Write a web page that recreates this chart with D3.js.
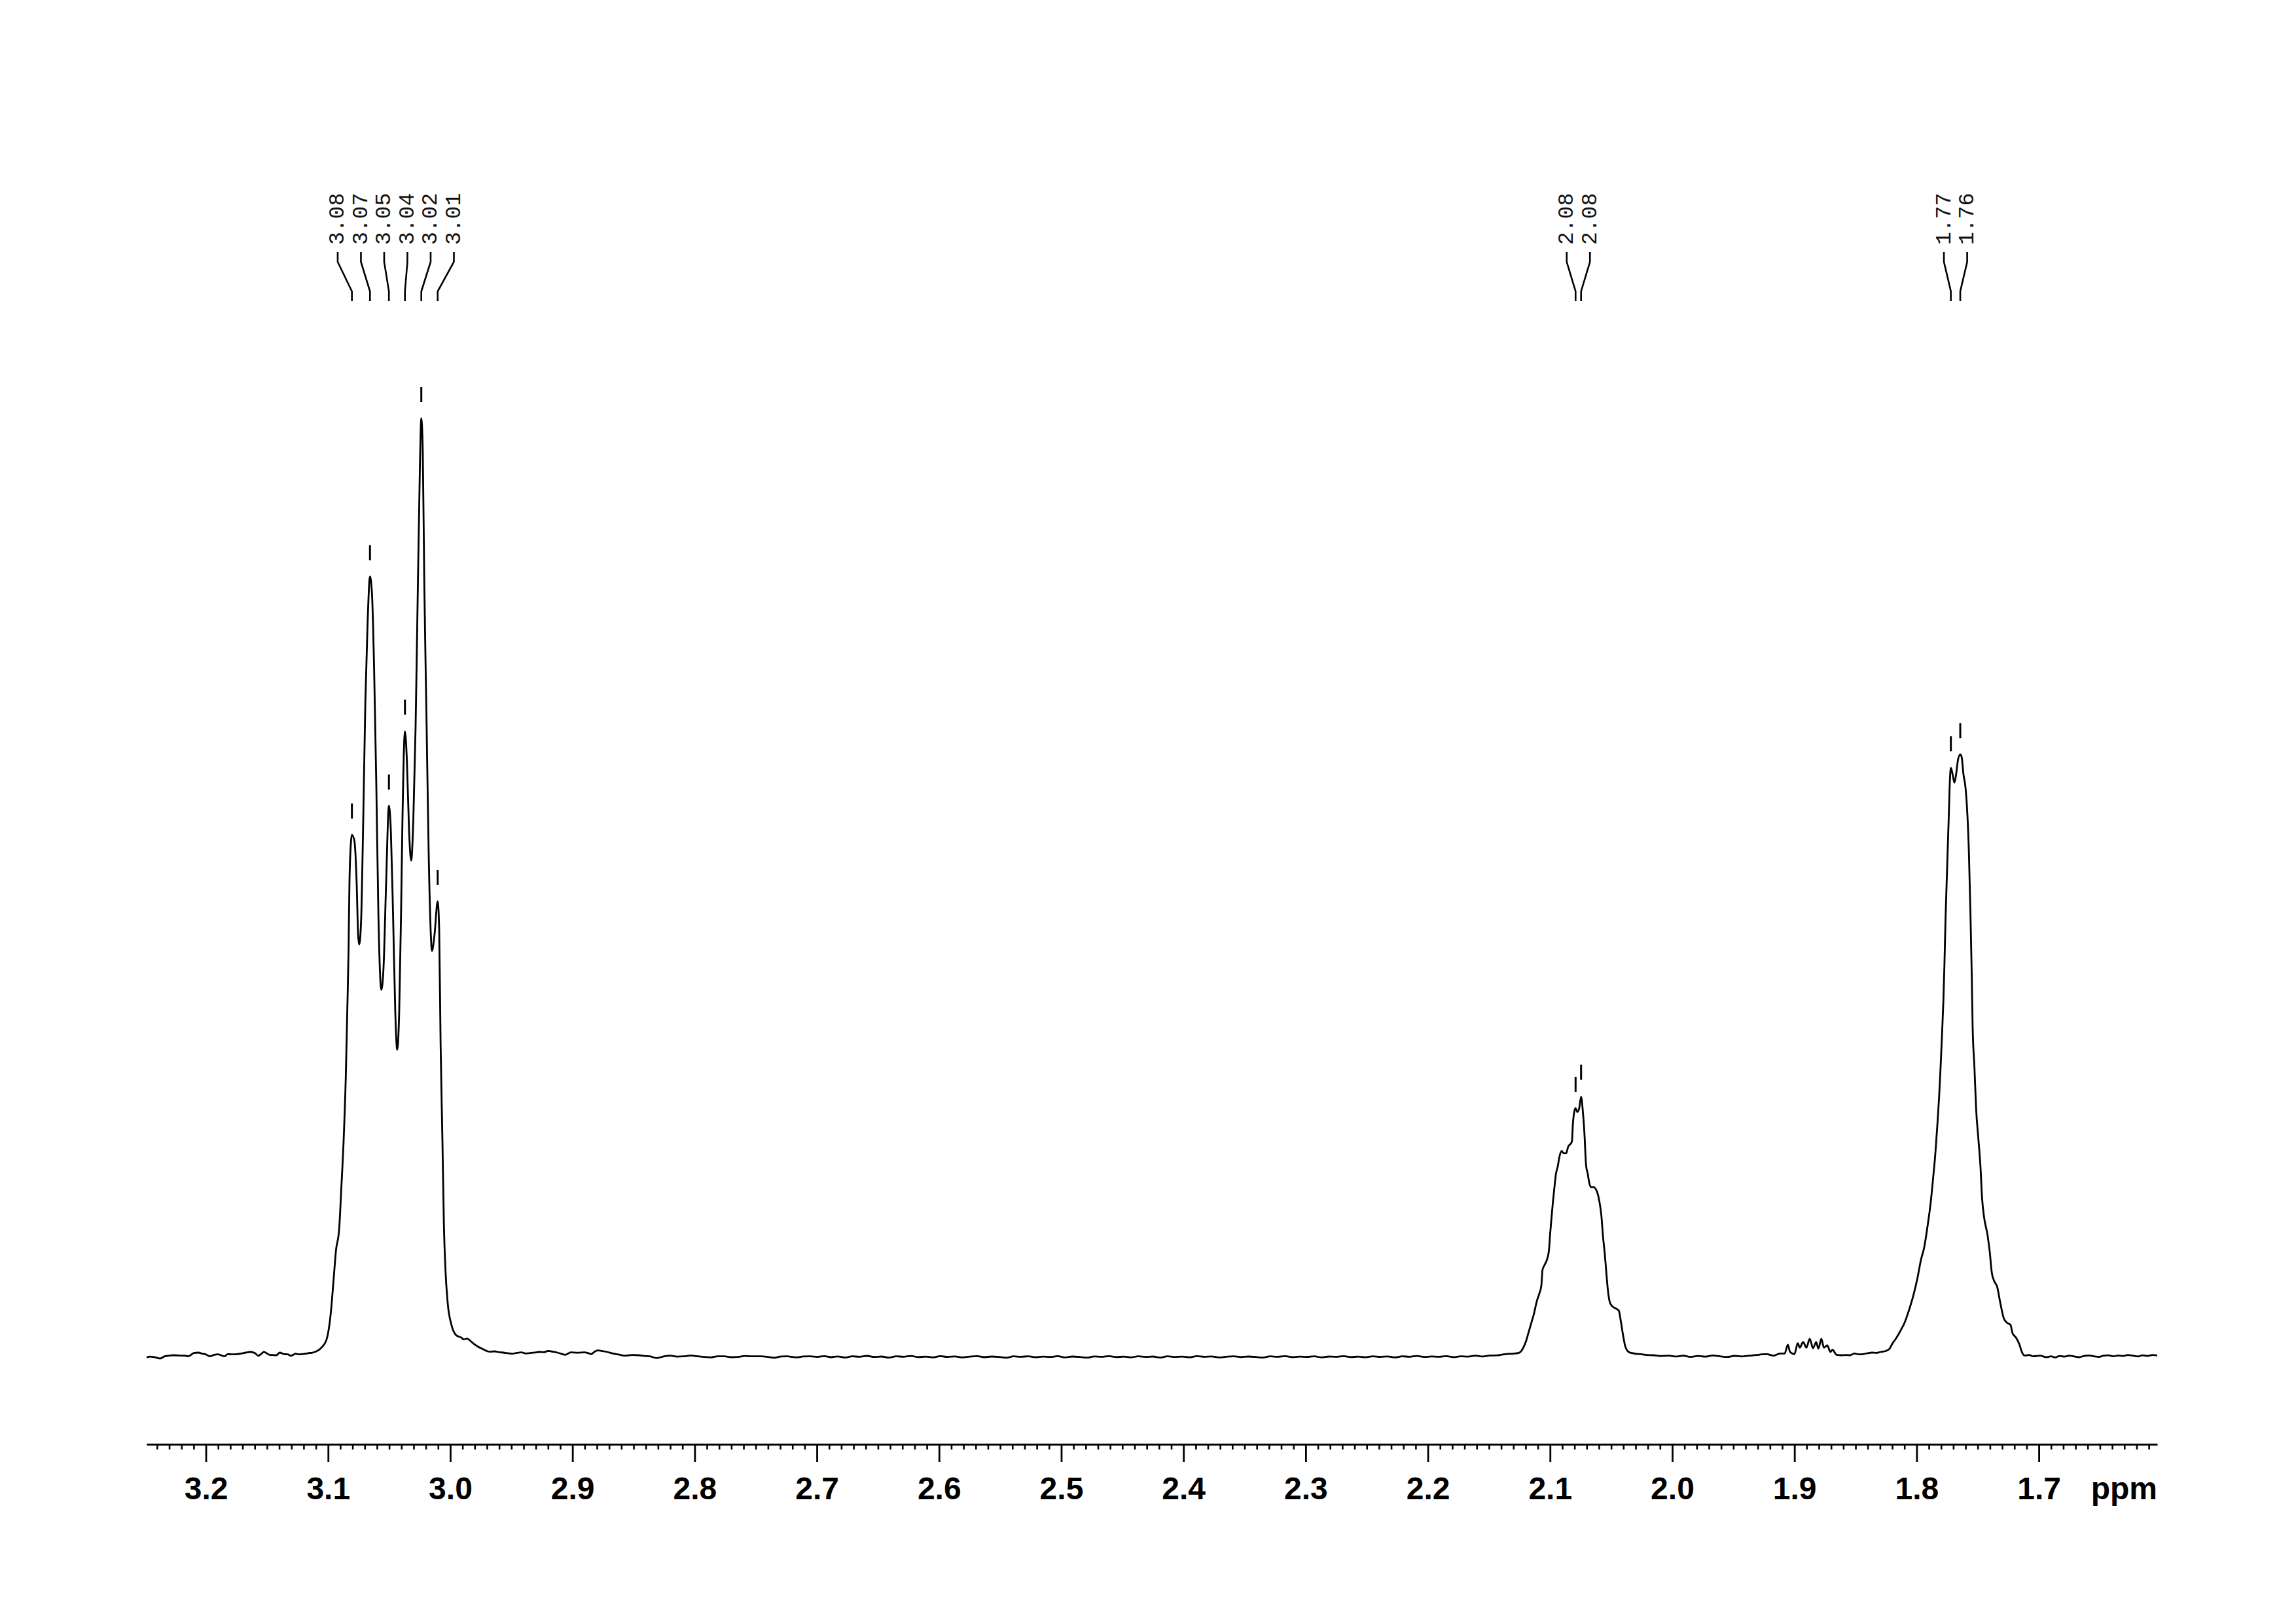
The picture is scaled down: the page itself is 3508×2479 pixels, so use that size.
<!DOCTYPE html>
<html>
<head>
<meta charset="utf-8">
<script src="https://cdn.jsdelivr.net/npm/d3@7"></script>
<style>
  html, body { margin: 0; padding: 0; background: #ffffff; }
  svg { display: block; }
</style>
</head>
<body>
<svg id="chart" width="3508" height="2479"></svg>
<script>
// ---------------- DATA ----------------
// 1H NMR trace: [chemical shift (ppm), relative intensity], tallest line = 100
const baselineLeft = [
  [3.2485,-0.30],[3.2455,-0.22],[3.2430,-0.26],[3.2400,-0.35],[3.2374,-0.42],[3.2337,-0.19],
  [3.2300,-0.12],[3.2264,-0.07],[3.2220,-0.10],[3.2171,-0.12],[3.2144,-0.19],[3.2120,-0.02],
  [3.2098,0.16],[3.2061,0.21],[3.2030,0.10],[3.2005,0.05],[3.1968,-0.19],[3.1931,-0.02],
  [3.1900,0.02],[3.1876,-0.07],[3.1848,-0.19],[3.1821,0.05],[3.1785,0.02],[3.1747,0.05],
  [3.1710,0.12],[3.1673,0.21],[3.1636,0.28],[3.1599,0.16],[3.1571,-0.12],[3.1545,0.10],
  [3.1525,0.28],[3.1500,0.12],[3.1479,-0.02],[3.1450,-0.05],[3.1423,-0.07],[3.1396,0.21],
  [3.1359,0.05],[3.1330,0.02],[3.1303,-0.12],[3.1266,0.09],[3.1240,0.02],[3.1211,0.05],
  [3.1180,0.10],[3.1155,0.16],[3.1130,0.20],[3.1109,0.28],[3.1085,0.42],[3.1063,0.63],
  [3.1043,0.90],[3.1026,1.21],[3.1008,1.80]
];
const multiplet305 = [
  [3.0980,4.15],[3.0953,8.29],[3.0936,11.04],[3.0909,13.45],[3.0891,17.94],[3.0873,22.77],
  [3.0855,29.66],[3.0843,36.56],[3.0832,43.45],[3.0825,50.35],[3.0814,54.49],[3.0805,55.52],
  [3.0784,54.83],[3.0766,50.35],[3.0754,44.83],[3.0745,43.80],[3.0730,46.22],[3.0712,57.25],
  [3.0695,69.66],[3.0677,77.94],[3.0657,83.11],[3.0641,81.38],[3.0623,73.11],[3.0605,60.70],
  [3.0588,46.90],[3.0564,38.97],[3.0546,41.38],[3.0525,50.35],[3.0502,58.63],[3.0486,55.87],
  [3.0468,46.90],[3.0450,36.56],[3.0434,32.56],[3.0418,36.56],[3.0403,46.90],[3.0391,57.25],
  [3.0371,66.56],[3.0355,63.45],[3.0337,55.87],[3.0320,52.77],[3.0302,57.25],[3.0284,66.90],
  [3.0266,81.38],[3.0248,95.18],[3.0237,100.0],[3.0225,96.56],[3.0213,82.77],[3.0194,67.59],
  [3.0177,53.80],[3.0159,44.83],[3.0150,43.11],[3.0129,44.83],[3.0103,48.42],[3.0091,45.52],
  [3.0079,33.11],[3.0064,22.77],[3.0052,13.80],[3.0039,8.97],[3.0021,5.52],[2.9989,3.11],
  [2.9953,2.08]
];
const baselineMid1 = [
  [2.9936,1.95],[2.9908,1.80],[2.9890,1.62],[2.9862,1.70],[2.9834,1.45],[2.9807,1.14],
  [2.9770,0.82],[2.9733,0.58],[2.9696,0.35],[2.9670,0.30],[2.9640,0.35],[2.9600,0.25],
  [2.9566,0.21],[2.9530,0.15],[2.9492,0.09],[2.9455,0.18],[2.9418,0.23],[2.9380,0.12],
  [2.9345,0.16],[2.9310,0.22],[2.9271,0.28],[2.9235,0.25],[2.9197,0.40],[2.9160,0.30],
  [2.9123,0.21],[2.9090,0.08],[2.9058,-0.02],[2.9035,0.12],[2.9012,0.23],[2.8960,0.20],
  [2.8901,0.23],[2.8870,0.15],[2.8846,0.05],[2.8820,0.30],[2.8791,0.44],[2.8755,0.38],
  [2.8717,0.28],[2.8680,0.15],[2.8643,0.05],[2.8605,-0.05],[2.8569,-0.12],[2.8510,-0.05],
  [2.8458,-0.07],[2.8410,-0.15],[2.8366,-0.19],[2.8311,-0.37],[2.8255,-0.20],[2.8200,-0.12],
  [2.8145,-0.22],[2.8089,-0.19],[2.8030,-0.10],[2.7978,-0.19],[2.7920,-0.25],[2.7867,-0.30],
  [2.7810,-0.18],[2.7756,-0.19],[2.7700,-0.28],[2.7645,-0.26],[2.7590,-0.15],[2.7535,-0.19],
  [2.7461,-0.19],[2.7400,-0.25],[2.7350,-0.35],[2.7290,-0.20],[2.7239,-0.19],[2.7200,-0.26],
  [2.7166,-0.30],[2.7110,-0.20],[2.7055,-0.19]
];
const baselineMid2 = [
  [2.6995,-0.25],[2.6940,-0.16],[2.6885,-0.28],[2.6830,-0.20],[2.6770,-0.32],[2.6710,-0.18],
  [2.6650,-0.24],[2.6590,-0.14],[2.6530,-0.26],[2.6470,-0.21],[2.6410,-0.33],[2.6350,-0.19],
  [2.6290,-0.23],[2.6230,-0.15],[2.6170,-0.27],[2.6110,-0.22],[2.6050,-0.30],[2.5990,-0.17],
  [2.5930,-0.25],[2.5870,-0.20],[2.5810,-0.31],[2.5750,-0.22],[2.5690,-0.16],[2.5630,-0.28],
  [2.5570,-0.21],[2.5510,-0.25],[2.5450,-0.34],[2.5390,-0.19],[2.5330,-0.24],[2.5270,-0.18],
  [2.5210,-0.29],[2.5150,-0.22],[2.5090,-0.26],[2.5030,-0.17],[2.4970,-0.30],[2.4910,-0.21],
  [2.4850,-0.25],[2.4790,-0.33],[2.4730,-0.20],[2.4670,-0.24],[2.4610,-0.16],[2.4550,-0.27],
  [2.4490,-0.22],[2.4430,-0.30],[2.4370,-0.19],[2.4310,-0.25],[2.4250,-0.21],[2.4190,-0.32],
  [2.4130,-0.18],[2.4070,-0.26],[2.4010,-0.22],[2.3950,-0.29],[2.3890,-0.17],[2.3830,-0.24],
  [2.3770,-0.20],[2.3710,-0.31],[2.3650,-0.23],[2.3590,-0.18],[2.3530,-0.27],[2.3470,-0.21],
  [2.3410,-0.25],[2.3350,-0.33],[2.3290,-0.19],[2.3230,-0.24],[2.3170,-0.17],[2.3110,-0.28],
  [2.3050,-0.22],[2.2990,-0.26],[2.2930,-0.19],[2.2870,-0.30],[2.2810,-0.21],[2.2750,-0.24],
  [2.2690,-0.16],[2.2630,-0.27],[2.2570,-0.22],[2.2510,-0.29],[2.2450,-0.18],[2.2390,-0.25],
  [2.2330,-0.20],[2.2270,-0.31],[2.2210,-0.19],[2.2150,-0.23],[2.2090,-0.15],[2.2030,-0.26],
  [2.1970,-0.20],[2.1910,-0.24],[2.1850,-0.17],[2.1790,-0.28],[2.1730,-0.18],[2.1670,-0.22],
  [2.1610,-0.12],[2.1550,-0.20],[2.1490,-0.10],[2.1430,-0.08],[2.1400,-0.02]
];
const multiplet208 = [
  [2.1366,0.05],[2.1300,0.10],[2.1259,0.16],[2.1223,0.63],[2.1196,1.45],[2.1178,2.26],
  [2.1152,3.43],[2.1134,4.24],[2.1107,5.76],[2.1089,6.46],[2.1071,7.39],[2.1062,9.02],
  [2.1044,9.60],[2.1027,10.07],[2.1009,11.12],[2.1000,12.75],[2.0991,14.15],[2.0977,16.24],
  [2.0964,17.88],[2.0952,19.28],[2.0937,20.09],[2.0923,21.14],[2.0905,21.73],[2.0887,21.49],
  [2.0869,21.49],[2.0852,22.19],[2.0830,22.54],[2.0821,22.77],[2.0813,24.64],[2.0798,26.15],
  [2.0791,26.32],[2.0777,25.92],[2.0762,26.27],[2.0746,27.55],[2.0732,26.04],[2.0719,23.71],
  [2.0705,20.21],[2.0691,19.28],[2.0679,18.34],[2.0664,17.88],[2.0643,17.88],[2.0616,17.41],
  [2.0598,16.48],[2.0580,14.85],[2.0566,12.52],[2.0553,10.89],[2.0541,9.02],[2.0527,6.92],
  [2.0509,5.52],[2.0491,5.17],[2.0464,4.94],[2.0438,4.71],[2.0419,3.43],[2.0402,2.03],
  [2.0384,0.86],[2.0357,0.28],[2.0330,0.16],[2.0295,0.08],[2.0259,0.05],[2.0210,-0.05],
  [2.0152,-0.07],[2.0090,-0.15],[2.0027,-0.12]
];
const baselineMid3 = [
  [1.9970,-0.20],[1.9910,-0.12],[1.9850,-0.25],[1.9790,-0.15],[1.9730,-0.22],[1.9670,-0.10],
  [1.9610,-0.18],[1.9550,-0.26],[1.9490,-0.14],[1.9430,-0.20],[1.9370,-0.12],[1.9310,-0.05],
  [1.9270,0.02]
];
const impurity189 = [
  [1.9223,0.05],[1.9195,-0.05],[1.9170,-0.12],[1.9140,0.02],[1.9116,0.12],[1.9080,0.12],
  [1.9054,1.05],[1.9036,0.28],[1.9000,0.05],[1.8973,1.21],[1.8956,0.75],[1.8929,1.33],
  [1.8902,0.75],[1.8875,1.68],[1.8848,0.68],[1.8822,1.33],[1.8804,0.63],[1.8780,1.68],
  [1.8759,0.75],[1.8732,0.98],[1.8705,0.28],[1.8688,0.51],[1.8656,-0.02],[1.8616,-0.07],
  [1.8580,-0.05],[1.8545,-0.07],[1.8509,0.12],[1.8475,0.02],[1.8438,0.05],[1.8400,0.15],
  [1.8366,0.21],[1.8330,0.18],[1.8295,0.28],[1.8250,0.40],[1.8223,0.60],[1.8197,1.20],
  [1.8170,1.70],[1.8130,2.60]
];
const multiplet176 = [
  [1.8099,3.39],[1.8063,4.73],[1.8027,6.30],[1.7991,8.31],[1.7965,10.10],[1.7938,11.45],
  [1.7911,13.69],[1.7884,16.36],[1.7867,18.60],[1.7848,21.29],[1.7831,24.42],[1.7816,27.55],
  [1.7804,30.69],[1.7792,34.27],[1.7781,37.84],[1.7773,41.42],[1.7763,46.79],[1.7750,52.16],
  [1.7738,57.08],[1.7727,61.55],[1.7720,62.67],[1.7706,62.00],[1.7691,61.10],[1.7679,61.78],
  [1.7661,63.57],[1.7643,64.10],[1.7631,63.79],[1.7617,62.00],[1.7599,60.43],[1.7584,57.53],
  [1.7572,53.50],[1.7559,46.79],[1.7549,40.52],[1.7542,35.16],[1.7527,30.69],[1.7513,26.21],
  [1.7495,23.08],[1.7477,19.94],[1.7465,16.81],[1.7447,14.58],[1.7420,12.79],[1.7402,11.00],
  [1.7385,8.76],[1.7366,7.87],[1.7340,7.20],[1.7317,5.63],[1.7286,3.84],[1.7259,3.39],
  [1.7232,3.17],[1.7215,2.27],[1.7188,1.83],[1.7161,1.15],[1.7138,0.26],[1.7117,-0.10],
  [1.7080,-0.05],[1.7045,-0.19],[1.6990,-0.12],[1.6938,-0.28],[1.6900,-0.18],[1.6867,-0.30]
];
const baselineRight = [
  [1.6830,-0.15],[1.6790,-0.22],[1.6750,-0.12],[1.6710,-0.20],[1.6670,-0.28],[1.6630,-0.15],
  [1.6590,-0.10],[1.6550,-0.18],[1.6510,-0.25],[1.6470,-0.12],[1.6430,-0.08],[1.6390,-0.18],
  [1.6350,-0.10],[1.6310,-0.15],[1.6270,-0.05],[1.6230,-0.12],[1.6190,-0.20],[1.6150,-0.08],
  [1.6110,-0.15],[1.6070,-0.05],[1.6031,-0.10]
];

// picked peaks: position, printed label, apex intensity
const peakPpm    = [3.0805, 3.0657, 3.0502, 3.0371, 3.0237, 3.0103, 2.0791, 2.0746, 1.7720, 1.7643];
const peakLabels = ["3.08", "3.07", "3.05", "3.04", "3.02", "3.01", "2.08", "2.08", "1.77", "1.76"];
const peakHeight = [55.5, 83.1, 58.6, 66.6, 100.0, 48.4, 26.3, 27.6, 62.7, 64.1];

// axis
const axisDomain = [3.2485, 1.6031];
const majorTicks = [3.2, 3.1, 3.0, 2.9, 2.8, 2.7, 2.6, 2.5, 2.4, 2.3, 2.2, 2.1, 2.0, 1.9, 1.8, 1.7];
const tickLabels = ["3.2","3.1","3.0","2.9","2.8","2.7","2.6","2.5","2.4","2.3","2.2","2.1","2.0","1.9","1.8","1.7"];
const axisUnit = "ppm";

// ---------------- DRAWING ----------------
const spectrum = [].concat(baselineLeft, multiplet305, baselineMid1, baselineMid2,
  multiplet208, baselineMid3, impurity189, multiplet176, baselineRight);

const svg = d3.select("#chart");
svg.append("rect").attr("width", 3508).attr("height", 2479).attr("fill", "#ffffff");

const x = d3.scaleLinear().domain(axisDomain).range([224, 3296]);
const y = d3.scaleLinear().domain([0, 100]).range([2069, 639]);

// spectrum trace
const line = d3.line()
  .x(d => x(d[0]))
  .y(d => y(d[1]))
  .curve(d3.curveMonotoneX);

svg.append("path")
  .datum(spectrum)
  .attr("d", line)
  .attr("fill", "none")
  .attr("stroke", "#000")
  .attr("stroke-width", 2.8)
  .attr("stroke-linejoin", "round");

// axis: minor ticks (0.01 ppm)
const axisY = 2206;
const minorTicks = x.ticks(170).filter(t => !majorTicks.some(m => Math.abs(m - t) < 1e-6));
const minorAxis = d3.axisBottom(x).tickValues(minorTicks).tickSize(8).tickSizeOuter(0).tickFormat("");
const gMinor = svg.append("g").attr("transform", `translate(0,${axisY})`).call(minorAxis);
gMinor.select(".domain").attr("stroke", "#000").attr("stroke-width", 3);
gMinor.selectAll(".tick line").attr("stroke", "#000").attr("stroke-width", 2.6);

// axis: major ticks with labels
const majorAxis = d3.axisBottom(x).tickValues(majorTicks).tickSize(27).tickSizeOuter(0)
  .tickFormat((d, i) => tickLabels[i]);
const gMajor = svg.append("g").attr("transform", `translate(0,${axisY})`).call(majorAxis);
gMajor.select(".domain").remove();
gMajor.selectAll(".tick line").attr("stroke", "#000").attr("stroke-width", 2.8);
gMajor.selectAll(".tick text")
  .attr("y", 84).attr("dy", null)
  .attr("fill", "#000")
  .style("font-family", "'Liberation Sans', Arial, sans-serif")
  .style("font-weight", "bold")
  .style("font-size", "48px");

svg.append("text")
  .attr("x", 3296).attr("y", axisY + 84)
  .attr("text-anchor", "end")
  .style("font-family", "'Liberation Sans', Arial, sans-serif")
  .style("font-weight", "bold")
  .style("font-size", "48px")
  .attr("fill", "#000")
  .text(axisUnit);

// peak markers just above each apex
const peaks = peakPpm.map((p, i) => ({ppm: p, label: peakLabels[i], h: peakHeight[i]}));
svg.append("g").selectAll("line").data(peaks).join("line")
  .attr("x1", d => x(d.ppm)).attr("x2", d => x(d.ppm))
  .attr("y1", d => y(d.h) - 25).attr("y2", d => y(d.h) - 48)
  .attr("stroke", "#000").attr("stroke-width", 3);

// group neighbouring peaks for the label fan
const groups = [];
peaks.forEach(p => {
  const last = groups[groups.length - 1];
  if (last && Math.abs(last[last.length - 1].ppm - p.ppm) < 0.05) last.push(p);
  else groups.push([p]);
});
const labelGap = 35.5;
groups.forEach(g => {
  const cx = d3.mean(g, d => x(d.ppm));
  g.forEach((p, i) => { p.lx = cx + (i - (g.length - 1) / 2) * labelGap; });
});

const gLab = svg.append("g");
gLab.selectAll("path").data(peaks).join("path")
  .attr("d", d => `M${d.lx},385 L${d.lx},400 L${x(d.ppm)},445 L${x(d.ppm)},460`)
  .attr("fill", "none").attr("stroke", "#000").attr("stroke-width", 2.6);

gLab.selectAll("text").data(peaks).join("text")
  .attr("transform", d => `translate(${d.lx + 9.5},374) rotate(-90)`)
  .attr("text-anchor", "start")
  .style("font-family", "'Liberation Mono', 'DejaVu Sans Mono', monospace")
  .style("font-size", "33px")
  .attr("fill", "#111")
  .text(d => d.label);
</script>
</body>
</html>
